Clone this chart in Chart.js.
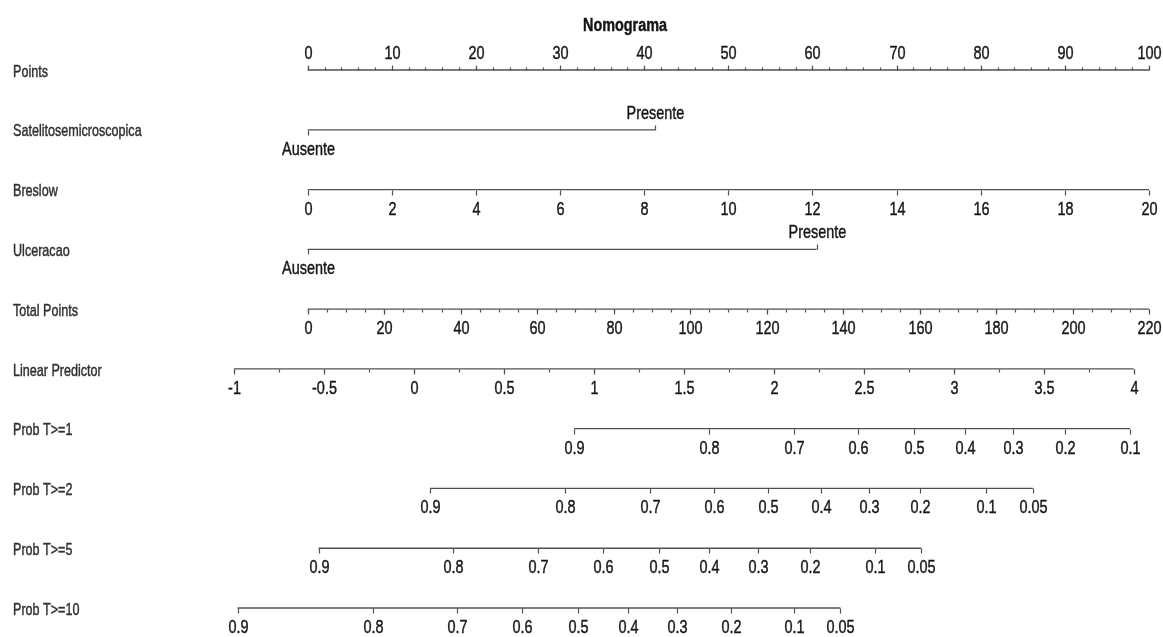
<!DOCTYPE html>
<html lang="pt">
<head>
<meta charset="utf-8">
<title>Nomograma</title>
<script src="https://cdn.jsdelivr.net/npm/chart.js@4.4.1/dist/chart.umd.min.js"></script>
<style>
    html, body { margin: 0; padding: 0; background: #fff; }
    canvas { display: block; }
</style>
</head>
<body>
<canvas id="nomograma" width="1163" height="637"></canvas>
<script>
// Linhas do nomograma, de cima para baixo
const rowLabels = ['Points', 'Satelitosemicroscopica', 'Breslow', 'Ulceracao', 'Total Points',
    'Linear Predictor', 'Prob T>=1', 'Prob T>=2', 'Prob T>=5', 'Prob T>=10'];

// Escala de pontos (0-100)
const pointsTicks = [0, 10, 20, 30, 40, 50, 60, 70, 80, 90, 100];

// Variaveis categoricas: nivel -> pontos
const sateliteLevels = ['Ausente', 'Presente'];
const satelitePoints = [0, 41.3];
const ulceracaoLevels = ['Ausente', 'Presente'];
const ulceracaoPoints = [0, 60.5];

// Breslow (mm), 20 mm = 100 pontos
const breslowTicks = [0, 2, 4, 6, 8, 10, 12, 14, 16, 18, 20];
const breslowMax = 20;

// Pontos totais (0-220)
const totalTicks = [0, 20, 40, 60, 80, 100, 120, 140, 160, 180, 200, 220];
const totalMax = 220;

// Preditor linear e a sua posicao em pontos nos extremos
const lpTicks = [-1, -0.5, 0, 0.5, 1, 1.5, 2, 2.5, 3, 3.5, 4];
const lpRange = [-1, 4];
const lpPointsRange = [-8.76, 98.17];

// Probabilidades: rotulo e preditor linear correspondente
const prob1Labels = ['0.9', '0.8', '0.7', '0.6', '0.5', '0.4', '0.3', '0.2', '0.1'];
const prob1Lp = [0.89, 1.64, 2.11, 2.47, 2.78, 3.06, 3.33, 3.62, 3.98];
const prob2Labels = ['0.9', '0.8', '0.7', '0.6', '0.5', '0.4', '0.3', '0.2', '0.1', '0.05'];
const prob2Lp = [0.09, 0.84, 1.31, 1.67, 1.97, 2.26, 2.53, 2.81, 3.18, 3.44];
const prob5Labels = ['0.9', '0.8', '0.7', '0.6', '0.5', '0.4', '0.3', '0.2', '0.1', '0.05'];
const prob5Lp = [-0.53, 0.22, 0.69, 1.05, 1.36, 1.64, 1.91, 2.20, 2.56, 2.82];
const prob10Labels = ['0.9', '0.8', '0.7', '0.6', '0.5', '0.4', '0.3', '0.2', '0.1', '0.05'];
const prob10Lp = [-0.98, -0.23, 0.24, 0.60, 0.91, 1.19, 1.46, 1.76, 2.11, 2.37];

const LINE_COLOR = '#505050';
const TEXT_COLOR = '#161616';
const LABEL_COLOR = '#303030';

function lpToPoints(lp) {
    const t = (lp - lpRange[0]) / (lpRange[1] - lpRange[0]);
    return lpPointsRange[0] + t * (lpPointsRange[1] - lpPointsRange[0]);
}

function range(start, end, step) {
    const out = [];
    for (let v = start; v <= end + 1e-9; v += step) out.push(+v.toFixed(4));
    return out;
}

// Cada eixo: marcas com posicao em pontos, lado do rotulo (-1 acima, 1 abaixo)
const axes = [
    {
        row: 0,
        ticks: pointsTicks.map(v => ({ at: v, text: String(v), side: -1 })),
        minor: range(0, 100, 2),
        minorSide: -1
    },
    {
        row: 1,
        ticks: sateliteLevels.map((lv, i) => ({ at: satelitePoints[i], text: lv, side: i === 0 ? 1 : -1 }))
    },
    {
        row: 2,
        ticks: breslowTicks.map(v => ({ at: v * 100 / breslowMax, text: String(v), side: 1 }))
    },
    {
        row: 3,
        ticks: ulceracaoLevels.map((lv, i) => ({ at: ulceracaoPoints[i], text: lv, side: i === 0 ? 1 : -1 }))
    },
    {
        row: 4,
        ticks: totalTicks.map(v => ({ at: v * 100 / totalMax, text: String(v), side: 1 })),
        minor: range(0, totalMax, 5).map(v => v * 100 / totalMax),
        minorSide: 1
    },
    {
        row: 5,
        ticks: lpTicks.map(v => ({ at: lpToPoints(v), text: String(v), side: 1 })),
        minor: range(-1, 4, 0.25).map(lpToPoints),
        minorSide: 1
    },
    { row: 6, ticks: prob1Labels.map((t, i) => ({ at: lpToPoints(prob1Lp[i]), text: t, side: 1 })) },
    { row: 7, ticks: prob2Labels.map((t, i) => ({ at: lpToPoints(prob2Lp[i]), text: t, side: 1 })) },
    { row: 8, ticks: prob5Labels.map((t, i) => ({ at: lpToPoints(prob5Lp[i]), text: t, side: 1 })) },
    { row: 9, ticks: prob10Labels.map((t, i) => ({ at: lpToPoints(prob10Lp[i]), text: t, side: 1 })) }
];

// Texto estreitado na horizontal, com um leve contorno para engrossar o traco
function drawText(ctx, text, x, y, font, sx, align, color) {
    ctx.save();
    ctx.translate(x, y);
    ctx.scale(sx, 1);
    ctx.font = font;
    ctx.fillStyle = color;
    ctx.strokeStyle = color;
    ctx.lineWidth = 0.45;
    ctx.textAlign = align;
    ctx.textBaseline = 'middle';
    ctx.fillText(text, 0, 0);
    ctx.strokeText(text, 0, 0);
    ctx.restore();
}

// Marcas, rotulos das marcas, nomes das linhas e titulo
const nomogramPlugin = {
    id: 'nomogram',
    afterDatasetsDraw(chart) {
        const ctx = chart.ctx;
        const xs = chart.scales.x;
        const ys = chart.scales.y;

        ctx.save();
        ctx.strokeStyle = LINE_COLOR;
        ctx.lineWidth = 1.2;

        axes.forEach(axis => {
            const y = Math.round(ys.getPixelForValue(axis.row)) + 0.5;

            (axis.minor || []).forEach(v => {
                const x = Math.round(xs.getPixelForValue(v)) + 0.5;
                ctx.beginPath();
                ctx.moveTo(x, y);
                ctx.lineTo(x, y + axis.minorSide * 3);
                ctx.stroke();
            });

            axis.ticks.forEach(tk => {
                const x = Math.round(xs.getPixelForValue(tk.at)) + 0.5;
                ctx.beginPath();
                ctx.moveTo(x, y);
                ctx.lineTo(x, y + tk.side * 5);
                ctx.stroke();
                const ty = tk.side < 0 ? y - 17 : y + 19;
                drawText(ctx, tk.text, x, ty, '19px "Liberation Sans", Arial, sans-serif', 0.76, 'center', TEXT_COLOR);
            });
        });

        rowLabels.forEach((lbl, i) => {
            const y = ys.getPixelForValue(i) + 2;
            drawText(ctx, lbl, 13, y, '17px "Liberation Sans", Arial, sans-serif', 0.74, 'left', LABEL_COLOR);
        });

        drawText(ctx, 'Nomograma', 625, 26, 'bold 18px "Liberation Sans", Arial, sans-serif', 0.8, 'center', TEXT_COLOR);
        ctx.restore();
    }
};

// Linha de base de cada eixo como serie
const datasets = axes.map(axis => {
    const ats = axis.ticks.map(t => t.at);
    return {
        data: [{ x: Math.min(...ats), y: axis.row }, { x: Math.max(...ats), y: axis.row }],
        showLine: true,
        borderColor: LINE_COLOR,
        borderWidth: 1.3,
        pointRadius: 0,
        pointHoverRadius: 0
    };
});

new Chart(document.getElementById('nomograma'), {
    type: 'scatter',
    data: { datasets },
    options: {
        responsive: false,
        animation: false,
        events: [],
        layout: { padding: 0 },
        plugins: {
            legend: { display: false },
            tooltip: { enabled: false },
            title: { display: false }
        },
        scales: {
            x: { type: 'linear', display: false, min: -36.57, max: 101.66 },
            y: { type: 'linear', display: false, reverse: true, min: -1.171, max: 9.485 }
        }
    },
    plugins: [nomogramPlugin]
});
</script>
</body>
</html>
